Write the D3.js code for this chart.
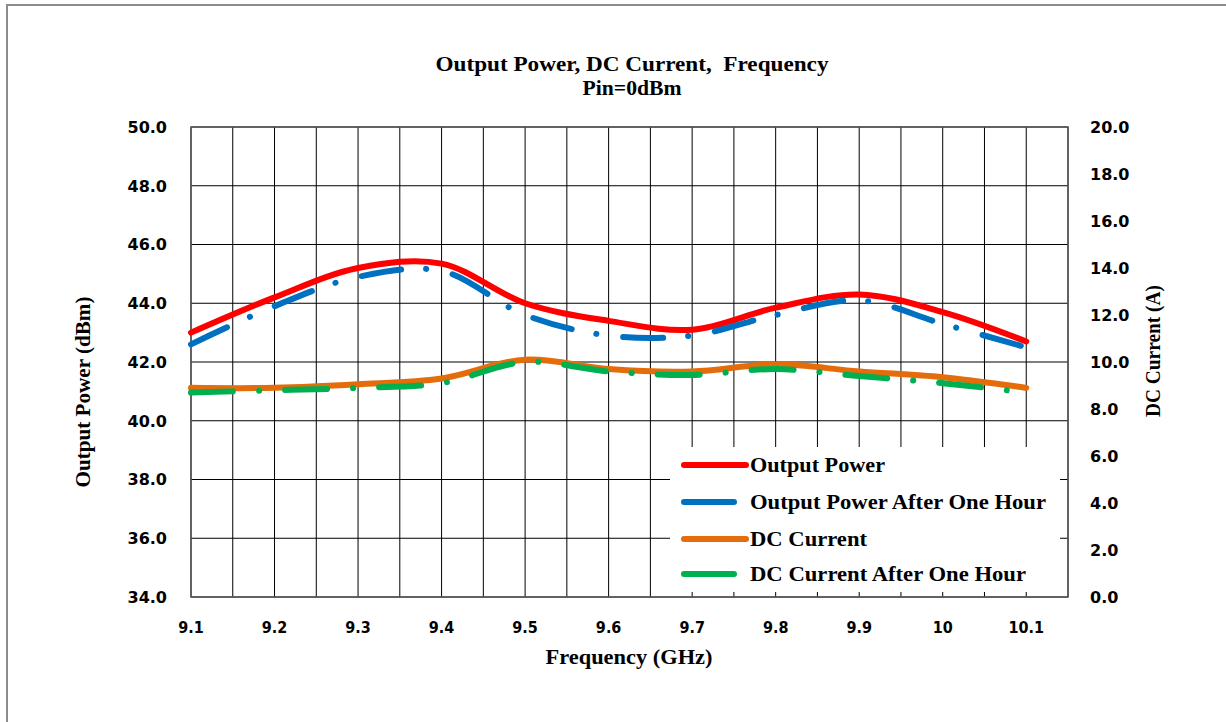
<!DOCTYPE html>
<html>
<head>
<meta charset="utf-8">
<script src="https://cdn.jsdelivr.net/npm/d3@7"></script>
<style>
  body { margin: 0; background: #fff; }
  svg { display: block; }
</style>
</head>
<body>
<div id="chart"></div>
<script>
// data
var freq = [9.1, 9.2, 9.3, 9.4, 9.5, 9.6, 9.7, 9.8, 9.9, 10.0, 10.1]
var outputPower = [43.0, 44.2, 45.2, 45.35, 44.0, 43.4, 43.1, 43.85, 44.3, 43.7, 42.7]
var outputPowerHour = [42.6, 43.9, 44.9, 45.1, 43.6, 42.9, 42.9, 43.6, 44.1, 43.3, 42.5]
var dcCurrent = [8.9, 8.9, 9.05, 9.3, 10.1, 9.7, 9.6, 9.9, 9.6, 9.35, 8.9]
var dcCurrentHour = [8.7, 8.8, 8.9, 9.1, 10.0, 9.6, 9.45, 9.7, 9.4, 9.1, 8.7]
var xTicks = [9.1, 9.2, 9.3, 9.4, 9.5, 9.6, 9.7, 9.8, 9.9, 10, 10.1]
var leftTicks = [34, 36, 38, 40, 42, 44, 46, 48, 50]
var rightTicks = [0, 2, 4, 6, 8, 10, 12, 14, 16, 18, 20]
var seriesNames = ["Output Power", "Output Power After One Hour", "DC Current", "DC Current After One Hour"]

var width = 1226, height = 722
var margin = { left: 191, right: 158, top: 127, bottom: 125 }
var plotW = width - margin.left - margin.right
var plotH = height - margin.top - margin.bottom

var svg = d3.select("#chart").append("svg")
    .attr("width", width)
    .attr("height", height)

// grey frame on the left and top
svg.append("path")
    .attr("d", "M7,722 V5 H1226")
    .attr("fill", "none")
    .attr("stroke", "#8c8c8c")
    .attr("stroke-width", 2)

var g = svg.append("g")
    .attr("transform", "translate(" + margin.left + "," + margin.top + ")")

var x = d3.scaleLinear().domain([9.1, 10.15]).range([0, plotW])
var yL = d3.scaleLinear().domain([34, 50]).range([plotH, 0])
var yR = d3.scaleLinear().domain([0, 20]).range([plotH, 0])

// vertical grid every 0.05 GHz
var vGrid = d3.range(0, 22).map(function (i) { return 9.1 + i * 0.05 })
g.selectAll(".vgrid").data(vGrid).enter().append("line")
    .attr("x1", function (d) { return x(d) }).attr("x2", function (d) { return x(d) })
    .attr("y1", 0).attr("y2", plotH)
    .attr("stroke", "#000").attr("stroke-width", 1)

g.selectAll(".hgrid").data(leftTicks).enter().append("line")
    .attr("x1", 0).attr("x2", plotW)
    .attr("y1", function (d) { return yL(d) }).attr("y2", function (d) { return yL(d) })
    .attr("stroke", "#000").attr("stroke-width", 1)

g.append("rect")
    .attr("width", plotW).attr("height", plotH)
    .attr("fill", "none").attr("stroke", "#595959").attr("stroke-width", 1.5)

var tickFont = "'DejaVu Sans', Verdana, sans-serif"

// left axis labels
g.append("g").selectAll("text").data(leftTicks).enter().append("text")
    .attr("x", -24).attr("y", function (d) { return yL(d) })
    .attr("dy", "0.36em")
    .attr("text-anchor", "end")
    .style("font-family", tickFont).style("font-weight", "bold").style("font-size", "16px")
    .text(function (d) { return d3.format(".1f")(d) })

// right axis labels
g.append("g").selectAll("text").data(rightTicks).enter().append("text")
    .attr("x", plotW + 22).attr("y", function (d) { return yR(d) })
    .attr("dy", "0.36em")
    .style("font-family", tickFont).style("font-weight", "bold").style("font-size", "16px")
    .text(function (d) { return d3.format(".1f")(d) })

// bottom axis labels
g.append("g").selectAll("text").data(xTicks).enter().append("text")
    .attr("x", function (d) { return x(d) }).attr("y", plotH + 36)
    .attr("text-anchor", "middle")
    .style("font-family", "'DejaVu Sans Condensed', 'DejaVu Sans', sans-serif")
    .style("font-weight", "bold").style("font-size", "16px")
    .text(function (d) { return d })

// lines
var curve = d3.curveCatmullRom.alpha(0.5)
var lineL = d3.line().x(function (d) { return x(d[0]) }).y(function (d) { return yL(d[1]) }).curve(curve)
var lineR = d3.line().x(function (d) { return x(d[0]) }).y(function (d) { return yR(d[1]) }).curve(curve)

var series = [
    { name: seriesNames[2], values: dcCurrent, line: lineR, color: "#E46C0A", dash: null },
    { name: seriesNames[3], values: dcCurrentHour, line: lineR, color: "#00B050", dash: "42 26 0.1 26" },
    { name: seriesNames[0], values: outputPower, line: lineL, color: "#FF0000", dash: null },
    { name: seriesNames[1], values: outputPowerHour, line: lineL, color: "#0070C0", dash: "40 25 0.1 27" }
]

series.forEach(function (s) {
    g.append("path")
        .datum(d3.zip(freq, s.values))
        .attr("d", s.line)
        .attr("fill", "none")
        .attr("stroke", s.color)
        .attr("stroke-width", 6)
        .attr("stroke-linecap", "round")
        .attr("stroke-dasharray", s.dash)
})

var serif = "'Liberation Serif', 'Times New Roman', serif"

// legend (white box covering the grid)
var legend = svg.append("g").attr("transform", "translate(670,447)")
legend.append("rect").attr("width", 390).attr("height", 145).attr("fill", "#fff")
var legendItems = [
    { name: seriesNames[0], color: "#FF0000", len: 62, tl: 135 },
    { name: seriesNames[1], color: "#0070C0", len: 50, tl: 296 },
    { name: seriesNames[2], color: "#E46C0A", len: 62, tl: 117 },
    { name: seriesNames[3], color: "#00B050", len: 50, tl: 276 }
]
var rowY = [18, 55, 92, 127]
legendItems.forEach(function (d, i) {
    legend.append("line")
        .attr("x1", 14).attr("x2", 14 + d.len)
        .attr("y1", rowY[i]).attr("y2", rowY[i])
        .attr("stroke", d.color).attr("stroke-width", 6).attr("stroke-linecap", "round")
    legend.append("text")
        .attr("x", 80).attr("y", rowY[i]).attr("dy", "0.33em")
        .attr("textLength", d.tl).attr("lengthAdjust", "spacingAndGlyphs")
        .style("font-family", serif)
        .style("font-weight", "bold").style("font-size", "20px")
        .text(d.name)
})

// titles
function label(tx, ty, rot, txt, len) {
    svg.append("text")
        .attr("transform", "translate(" + tx + "," + ty + ")" + (rot ? " rotate(-90)" : ""))
        .attr("text-anchor", "middle")
        .attr("textLength", len).attr("lengthAdjust", "spacingAndGlyphs")
        .style("font-family", serif).style("font-weight", "bold").style("font-size", "20px")
        .style("white-space", "pre")
        .text(txt)
}
label(632, 71, false, "Output Power, DC Current,  Frequency", 393)
label(632, 95, false, "Pin=0dBm", 99)
label(629, 664, false, "Frequency (GHz)", 167)
label(90, 392, true, "Output Power (dBm)", 191)
label(1160, 351, true, "DC Current (A)", 132)
</script>
</body>
</html>
